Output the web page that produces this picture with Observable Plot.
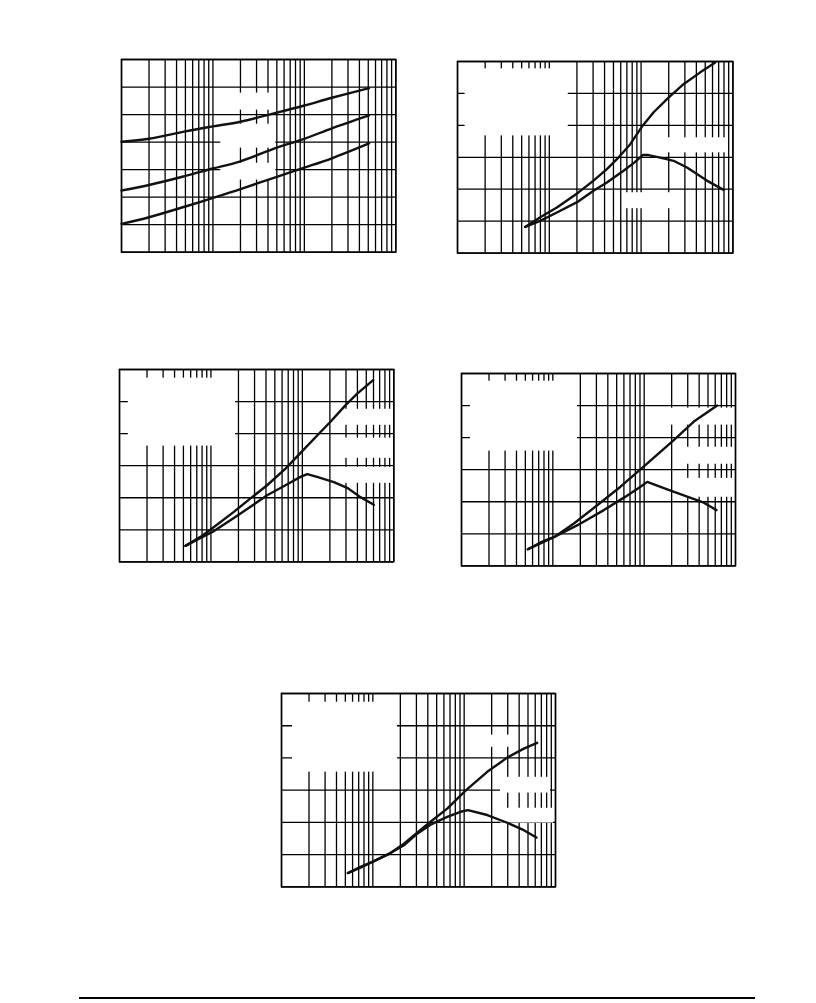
<!DOCTYPE html>
<html>
<head>
<meta charset="utf-8">
<script src="https://cdn.jsdelivr.net/npm/d3@7"></script>
<script src="https://cdn.jsdelivr.net/npm/@observablehq/plot@0.6"></script>
<style>
  html, body { margin: 0; padding: 0; background: #fff; }
  body { width: 816px; height: 1003px; position: relative; overflow: hidden; font-family: "Liberation Sans", Arial, sans-serif; }
  .chart { position: absolute; }
  .rule { position: absolute; left: 79px; width: 676px; top: 997px; height: 2px; background: #000; }
</style>
</head>
<body>
<div id="c1" class="chart"></div>
<div id="c2" class="chart"></div>
<div id="c3" class="chart"></div>
<div id="c4" class="chart"></div>
<div id="c5" class="chart"></div>
<div class="rule"></div>
<script>
// ---- grid ticks (log x over three decades) ----
const gridX = [1,2,3,4,5,6,7,8,9,10,20,30,40,50,60,70,80,90,100,200,300,400,500,600,700,800,900,1000];

// ---- Chart 1: three rising curves (7 grid divisions) ----
const c1X = [1, 2, 5, 10, 20, 50, 100, 200, 510];
const c1Top = [4.01, 4.12, 4.39, 4.57, 4.74, 5.07, 5.33, 5.61, 5.96];
const c1Mid = [2.24, 2.44, 2.77, 3.04, 3.30, 3.80, 4.12, 4.50, 4.97];
const c1Low = [1.03, 1.27, 1.66, 1.97, 2.29, 2.74, 3.07, 3.41, 3.95];
const c1Boxes = [[13.8, 45.2, 5.16, 5.78], [12.2, 48.7, 3.78, 4.65], [12.2, 48.7, 2.62, 3.23]];

// ---- Chart 2 ----
const c2UpX = [5.46, 7.96, 12.1, 20.8, 30.3, 42.4, 54.5, 76.2, 104, 137, 199, 290, 441, 643];
const c2UpY = [0.82, 1.12, 1.43, 1.90, 2.27, 2.63, 2.94, 3.41, 3.99, 4.41, 4.87, 5.29, 5.66, 5.97];
const c2LoX = [5.46, 7.96, 12.1, 20.8, 30.3, 42.4, 64.4, 84.9, 104, 120.6, 161.5, 226, 316, 521, 792];
const c2LoY = [0.82, 1.01, 1.27, 1.62, 1.95, 2.21, 2.58, 2.84, 3.07, 3.07, 2.99, 2.89, 2.68, 2.27, 1.98];
const c2Boxes = [[1.21, 16.1, 3.67, 5.77], [192, 889, 3.14, 3.61], [65.5, 218, 1.39, 1.89]];

// ---- Chart 3 ----
const c3UpX = [5.27, 7.69, 10.8, 17.8, 27.1, 41.2, 65.4, 104, 158, 203, 297, 398, 595];
const c3UpY = [0.50, 0.78, 1.09, 1.56, 1.98, 2.39, 2.91, 3.51, 4.05, 4.37, 4.89, 5.25, 5.67];
const c3LoX = [5.27, 7.69, 10.8, 17.8, 27.1, 41.2, 65.4, 95.4, 113, 145, 221, 309, 432, 605];
const c3LoY = [0.50, 0.75, 0.96, 1.37, 1.72, 2.08, 2.39, 2.65, 2.74, 2.65, 2.49, 2.31, 2.02, 1.78];
const c3Boxes = [[1.25, 18.6, 3.61, 5.73], [248, 968, 4.26, 4.76], [248, 968, 3.23, 3.86], [248, 968, 2.45, 2.95]];

// ---- Chart 4 ----
const c4UpX = [5.33, 7.33, 10.5, 17.0, 30.6, 55.1, 103, 211, 350, 630];
const c4UpY = [0.52, 0.73, 0.91, 1.32, 1.89, 2.47, 3.14, 3.92, 4.50, 5.00];
const c4LoX = [5.33, 7.33, 10.5, 20.1, 36.2, 62.5, 91.2, 108, 179, 296, 450, 619];
const c4LoY = [0.52, 0.70, 0.91, 1.32, 1.74, 2.16, 2.47, 2.62, 2.39, 2.16, 1.97, 1.74];
const c4Boxes = [[1.25, 18.6, 3.58, 5.76], [185, 951, 4.39, 4.92], [270, 951, 3.17, 3.70], [270, 951, 2.14, 2.73]];

// ---- Chart 5 ----
const c5UpX = [5.33, 7.33, 10.3, 15.6, 21.9, 30.6, 42.8, 65.2, 105, 179, 296, 450, 630];
const c5UpY = [0.43, 0.60, 0.80, 1.05, 1.34, 1.68, 2.02, 2.43, 3.00, 3.57, 4.01, 4.29, 4.47];
const c5LoX = [5.33, 7.33, 10.3, 15.6, 21.9, 30.6, 42.8, 65.2, 91.2, 110, 179, 296, 450, 619];
const c5LoY = [0.43, 0.62, 0.80, 1.05, 1.29, 1.65, 1.93, 2.17, 2.33, 2.38, 2.23, 1.99, 1.76, 1.53];
const c5Boxes = [[1.32, 18.6, 3.56, 5.73], [194, 365, 4.33, 4.71], [250, 882, 2.91, 3.40], [250, 951, 1.98, 2.44]];

function series(xs, ys) { return xs.map((x, i) => ({x, y: ys[i]})); }
function boxes(bs) { return bs.map(b => ({x1: b[0], x2: b[1], y1: b[2], y2: b[3]})); }

function drawChart(id, left, top, w, h, yMax, curves, bxs, curveType) {
  const m = 2;
  const el = document.getElementById(id);
  el.style.left = (left - m) + "px";
  el.style.top = (top - m) + "px";
  const gridY = d3.range(0, yMax + 1);
  const marks = [
    Plot.ruleX(gridX, {stroke: "#000", strokeWidth: 1.3}),
    Plot.ruleY(gridY, {stroke: "#000", strokeWidth: 1.3}),
    Plot.rect(boxes(bxs), {x1: "x1", x2: "x2", y1: "y1", y2: "y2", fill: "#fff"}),
    Plot.frame({stroke: "#000", strokeWidth: 1.5})
  ];
  for (const c of curves) {
    marks.push(Plot.line(c, {x: "x", y: "y", stroke: "#111", strokeWidth: 2.4, curve: curveType}));
  }
  const svg = Plot.plot({
    width: w + 2 * m,
    height: h + 2 * m,
    marginLeft: m, marginRight: m, marginTop: m, marginBottom: m,
    style: {background: "transparent", overflow: "visible"},
    x: {type: "log", domain: [1, 1000], axis: null},
    y: {domain: [0, yMax], axis: null},
    marks
  });
  el.appendChild(svg);
}

drawChart("c1", 120.7, 59.3, 274.3, 192.7, 7,
  [series(c1X, c1Top), series(c1X, c1Mid), series(c1X, c1Low)], c1Boxes, "catmull-rom");
drawChart("c2", 457.3, 60.7, 275.4, 191.6, 6,
  [series(c2UpX, c2UpY), series(c2LoX, c2LoY)], c2Boxes, "linear");
drawChart("c3", 119, 369.3, 274.3, 192.4, 6,
  [series(c3UpX, c3UpY), series(c3LoX, c3LoY)], c3Boxes, "linear");
drawChart("c4", 461, 373.3, 274, 192.4, 6,
  [series(c4UpX, c4UpY), series(c4LoX, c4LoY)], c4Boxes, "linear");
drawChart("c5", 281, 693.3, 274, 193.4, 6,
  [series(c5UpX, c5UpY), series(c5LoX, c5LoY)], c5Boxes, "linear");
</script>
</body>
</html>
